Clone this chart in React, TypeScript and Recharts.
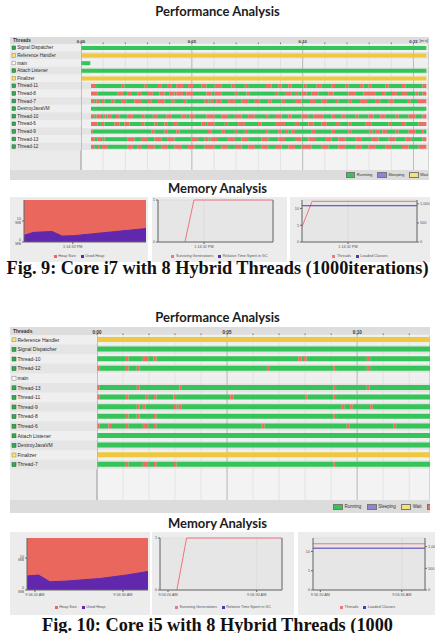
import React from "react";
import {
  BarChart,
  Bar,
  Cell,
  XAxis,
  YAxis,
  CartesianGrid,
  AreaChart,
  Area,
  LineChart,
  Line,
} from "recharts";

const FONT = "'Liberation Sans', Arial, sans-serif";
const TITLE_FONT = "Lato, 'Open Sans', sans-serif";
const CAPTION_FONT = "'Liberation Serif', 'Times New Roman', serif";

const GREEN = "#35c457";
const RED = "#ec6d64";
const YELLOW = "#efc83f";
const SLEEP = "#8c84d6";
const HEAP = "#ea675e";
const USED = "#6128ad";
const SURV = "#ee7480";
const BLUE = "#4b39b5";
const PANEL = "#ececec";

const stateNames = ["Running", "Sleeping", "Wait", "Monitor"];
const stateColors = [GREEN, SLEEP, "#f3e27a", RED];

// ---- Fig. 9 (Core i7) thread timeline, seconds ----
const threads9 = [
  "Signal Dispatcher", "Reference Handler", "main", "Attach Listener", "Finalizer",
  "Thread-11", "Thread-8", "Thread-7", "DestroyJavaVM", "Thread-10",
  "Thread-6", "Thread-9", "Thread-13", "Thread-12",
];
const kinds9 = ["run", "wait", "main", "run", "wait", "run", "run", "run", "run", "run", "run", "run", "run", "run"];
const start9 = [0, 0, 0, 0, 0, 0.45, 0.45, 0.45, 0.45, 0.45, 0.45, 0.45, 0.45, 0.45];
const end9 = [15.58, 15.58, 0.42, 15.58, 15.58, 15.58, 15.58, 15.58, 15.58, 15.58, 15.58, 15.58, 15.58, 15.58];
// monitor (red) intervals, flattened start/end pairs
const monitor9: number[][] = [
  [], [], [], [], [],
  [0.45, 0.68, 1.81, 1.96, 2.87, 3.02, 3.47, 3.62, 3.92, 4.07, 4.3, 4.6, 4.83, 5.05, 5.43, 5.66, 6.03, 6.33, 6.79, 6.94, 7.39, 7.54, 8.3, 8.6, 8.9, 9.05, 9.35, 9.5, 10.03, 10.18, 10.63, 10.86, 11.31, 11.46, 11.92, 12.07, 12.59, 12.75, 12.97, 13.12, 13.73, 13.88, 14.48, 14.63, 15.41, 15.58],
  [0.45, 0.75, 1.66, 1.89, 2.11, 2.26, 2.56, 2.71, 3.02, 3.24, 3.54, 3.77, 4.0, 4.22, 4.3, 4.6, 4.75, 5.05, 5.66, 5.88, 6.03, 6.33, 6.94, 7.09, 7.47, 7.62, 8.75, 8.9, 9.2, 9.5, 9.65, 9.8, 9.95, 10.18, 10.41, 10.71, 11.16, 11.39, 12.07, 12.37, 12.75, 13.27, 13.58, 13.73, 14.03, 14.25, 14.48, 14.71, 15.08, 15.23, 15.41, 15.58],
  [0.45, 0.6, 0.7, 0.85, 0.95, 1.06, 1.36, 1.51, 1.81, 2.04, 2.41, 2.71, 3.02, 3.17, 3.47, 3.77, 4.07, 4.22, 4.6, 4.75, 5.58, 5.75, 5.85, 6.0, 6.1, 6.33, 6.64, 6.94, 7.24, 7.54, 7.84, 8.07, 8.45, 8.6, 9.05, 9.2, 9.65, 9.95, 10.33, 10.56, 10.86, 11.09, 11.46, 11.61, 12.07, 12.22, 12.59, 12.9, 13.27, 13.5, 13.88, 14.1, 14.71, 14.86, 15.16, 15.58],
  [],
  [0.45, 0.6, 0.7, 0.9, 1.0, 1.1, 1.2, 1.36, 1.58, 1.73, 2.11, 2.34, 2.71, 2.87, 3.24, 3.47, 3.85, 4.07, 4.52, 4.75, 4.9, 5.13, 5.66, 6.03, 6.33, 6.64, 6.94, 7.24, 7.54, 7.84, 8.3, 8.45, 8.75, 9.05, 9.35, 9.5, 9.95, 10.26, 10.48, 10.93, 11.31, 11.46, 11.76, 11.92, 12.37, 12.52, 12.97, 13.2, 13.5, 13.73, 14.18, 14.33, 14.78, 15.08, 15.41, 15.58],
  [0.45, 0.75, 0.9, 1.06, 1.51, 1.73, 1.96, 2.19, 2.71, 2.87, 3.32, 3.47, 3.77, 3.92, 4.15, 4.37, 5.43, 5.6, 5.72, 6.03, 6.49, 6.64, 7.09, 7.39, 7.99, 8.15, 8.75, 9.2, 9.65, 9.88, 10.26, 10.48, 10.86, 11.09, 11.46, 11.69, 12.07, 12.22, 12.82, 13.12, 13.88, 14.03, 14.48, 14.63, 15.23, 15.58],
  [0.45, 0.53, 3.17, 3.32, 3.77, 3.92, 4.3, 4.45, 5.73, 5.88, 6.33, 6.49, 6.94, 7.09, 7.39, 7.54, 8.3, 8.45, 8.9, 9.05, 9.2, 9.35, 9.5, 9.65, 10.41, 10.56, 11.31, 11.46, 12.07, 12.22, 13.0, 13.15, 13.3, 13.45, 13.6, 13.8, 14.18, 14.33, 14.78, 15.08, 15.38, 15.46],
  [0.45, 0.62, 0.75, 0.9, 0.98, 1.06, 2.11, 2.41, 2.71, 3.02, 3.32, 3.62, 3.92, 4.22, 4.98, 5.28, 5.58, 5.75, 5.85, 6.18, 6.64, 6.94, 7.24, 7.54, 8.15, 8.45, 8.9, 9.2, 9.65, 9.95, 10.26, 10.56, 11.01, 11.31, 11.61, 11.92, 12.37, 12.67, 13.12, 13.42, 13.88, 14.18, 14.63, 14.93, 15.41, 15.58],
  [0.45, 0.6, 0.72, 0.85, 0.95, 1.21, 2.11, 2.34, 2.56, 2.71, 3.02, 3.32, 3.62, 3.92, 4.22, 4.52, 4.83, 5.13, 5.58, 6.03, 6.33, 6.64, 6.94, 7.24, 7.54, 7.84, 8.15, 8.45, 8.75, 9.05, 9.35, 9.65, 9.95, 10.41, 10.86, 11.16, 11.61, 11.92, 12.37, 12.67, 12.97, 13.27, 13.73, 14.03, 14.48, 14.78, 15.23, 15.58],
];
const ticks9 = [0, 1, 2, 3, 4, 5, 6, 7, 8, 9, 10, 11, 12, 13, 14, 15];

// ---- Fig. 10 (Core i5) thread timeline ----
const threads10 = [
  "Reference Handler", "Signal Dispatcher", "Thread-10", "Thread-12", "main",
  "Thread-13", "Thread-11", "Thread-9", "Thread-8", "Thread-6",
  "Attach Listener", "DestroyJavaVM", "Finalizer", "Thread-7",
];
const kinds10 = ["wait", "run", "run", "run", "main", "run", "run", "run", "run", "run", "run", "run", "wait", "run"];
const start10 = [0, 0, 0, 0, 0, 0, 0, 0, 0, 0, 0, 0, 0, 0];
const end10 = [12.8, 12.8, 12.8, 12.8, 0, 12.8, 12.8, 12.8, 12.8, 12.8, 12.8, 12.8, 12.8, 12.8];
const monitor10: number[][] = [
  [], [],
  [1.08, 1.21, 1.76, 1.97, 2.17, 2.29, 7.74, 7.87, 7.96, 8.06, 10.37, 10.5],
  [0, 0.09, 1.08, 1.21, 1.53, 1.63, 6.53, 6.65, 9.09, 9.19, 10.37, 10.5],
  [],
  [0, 0.09, 1.53, 1.63, 3.17, 3.27, 9.09, 9.19, 10.37, 10.47],
  [0, 0.09, 1.08, 1.21, 1.85, 1.97, 2.19, 2.29, 2.94, 3.04, 5.12, 5.24, 8.0, 8.1, 9.09, 9.19],
  [1.53, 1.63, 1.76, 1.86, 2.96, 3.06, 3.14, 3.26, 9.41, 9.51, 9.73, 9.83, 10.5, 10.6],
  [1.08, 1.21, 1.53, 1.63, 2.19, 2.29, 9.09, 9.19],
  [0, 0.09, 0.44, 0.54, 1.08, 1.21, 1.76, 1.97, 2.19, 2.29, 6.33, 6.44, 9.6, 9.7, 11.4, 11.5],
  [], [], [],
  [1.08, 1.21, 1.76, 1.97, 2.19, 2.29, 2.96, 3.06, 9.09, 9.19],
];
const ticks10 = [0, 1, 2, 3, 4, 5, 6, 7, 8, 9, 10, 11, 12];

// ---- memory charts ----
const memTicks9 = [6.4];
const memTickLabels9 = ["1:14:32 PM"];
const heapTime9 = [0, 1.3, 3.7, 5.0, 6.5, 16];
const heap9 = [20, 20, 20, 20, 20, 20];
const used9 = [3.2, 4.6, 5.0, 2.8, 3.0, 6.4];
const gcTime9 = [3.75, 5.0, 16];
const surv9 = [0, 1, 1];
const gc9 = [null, null, null];
const clsTime9 = [0, 1.4, 16];
const threadCount9 = [4.5, 12.1, 12.1];
const classes9 = [950, 950, 950];

const memTicks10 = [0.9, 10.9];
const memTickLabels10 = ["9:56:20 AM", "9:56:30 AM"];
const heapTime10 = [0, 1.3, 2.6, 4.5, 8.3, 11.3, 13.75];
const heap10 = [16.3, 16.3, 16.3, 16.3, 16.3, 16.3, 16.3];
const used10 = [4.4, 4.7, 2.6, 2.8, 3.6, 4.7, 5.8];
const gcTime10 = [1.9, 3.0, 13.75];
const surv10 = [0, 1, 1];
const gc10 = [null, null, null];
const clsTime10 = [0, 13.75];
const threadCount10 = [12, 12];
const classes10 = [965, 965];

function buildRows(names: string[], kinds: string[], starts: number[], ends: number[], monitors: number[][]) {
  const segsList = names.map((_, i) => {
    const base = kinds[i] === "wait" ? YELLOW : GREEN;
    const segs = [{ len: starts[i], color: "transparent" }];
    let cur = starts[i];
    const m = monitors[i];
    for (let k = 0; k < m.length; k += 2) {
      if (m[k] > cur) segs.push({ len: m[k] - cur, color: base });
      segs.push({ len: m[k + 1] - Math.max(m[k], cur), color: RED });
      cur = m[k + 1];
    }
    if (ends[i] > cur) segs.push({ len: ends[i] - cur, color: base });
    return segs;
  });
  const maxSegs = Math.max(...segsList.map((s) => s.length));
  const rows = names.map((name, i) => {
    const row: Record<string, any> = { name };
    for (let k = 0; k < maxSegs; k++) {
      const s = segsList[i][k];
      row[`s${k}`] = s ? s.len : 0;
      row[`c${k}`] = s ? s.color : "transparent";
    }
    return row;
  });
  return { rows, maxSegs };
}

function ThreadTick(props: any) {
  const { y, payload, axisW, rowH, kind, font, index } = props;
  const s = font * 0.8;
  const iconFill = kind === "wait" ? "#f6e08a" : kind === "main" ? "#ffffff" : "#3aa655";
  const iconStroke = kind === "wait" ? "#a88a12" : kind === "main" ? "#777" : "#1d6b31";
  return (
    <g>
      <rect x={0} y={y - rowH / 2} width={axisW} height={rowH} fill={index % 2 ? "#e5e5e5" : "#efefef"} />
      <rect x={2} y={y - s / 2} width={s} height={s} fill={iconFill} stroke={iconStroke} strokeWidth={0.5} />
      <text x={3.5 + s} y={y} dy="0.35em" fontSize={font} fontFamily={FONT} fill="#2a2a2a">
        {payload.value}
      </text>
    </g>
  );
}

function Timeline(p: any) {
  const { names, kinds, starts, ends, monitors, ticks, domainMax, left, top, width, chartH, headerH, axisW, rowH, barSize, font, legendH, legendLeft, unit } = p;
  const { rows, maxSegs } = buildRows(names, kinds, starts, ends, monitors);
  const n = names.length;
  const padBottom = chartH - headerH - n * rowH;
  const hPoints = Array.from({ length: n + 1 }, (_, i) => headerH + i * rowH);
  const hFill = hPoints.map((_, i) => (i === n ? "#f3f3f3" : i % 2 ? "#e4e4e4" : "#efefef"));
  const kindOf: Record<string, string> = {};
  names.forEach((nm: string, i: number) => (kindOf[nm] = kinds[i]));
  const segKeys = Array.from({ length: maxSegs }, (_, k) => k);
  return (
    <div style={{ position: "absolute", left, top, width, height: chartH + legendH, background: "#ebebeb", overflow: "hidden" }}>
      <div style={{ position: "absolute", left: 0, top: 0, width, height: headerH, background: "#dddddd" }} />
      <BarChart width={width} height={chartH} data={rows} layout="vertical" margin={{ top: 0, right: 0, bottom: 0, left: 0 }} barCategoryGap={0}>
        <CartesianGrid vertical={false} horizontalPoints={hPoints} horizontalFill={hFill} stroke="#f7f7f7" strokeWidth={0.5} />
        <CartesianGrid horizontal={false} stroke="#d8d8d8" strokeWidth={0.6} />
        <CartesianGrid horizontal={false} xAxisId="major" stroke="#b2b2b2" strokeWidth={0.8} />
        <XAxis
          type="number"
          orientation="top"
          domain={[0, domainMax]}
          ticks={ticks}
          allowDataOverflow
          height={headerH}
          axisLine={false}
          tickSize={1.5}
          tickMargin={0}
          stroke="#777"
          interval={0}
          tick={{ fontSize: font * 0.9, fill: "#333", fontWeight: 700, fontFamily: FONT }}
          tickFormatter={(v: number) => (v % 5 === 0 ? `0:${String(v).padStart(2, "0")}` : "")}
        />
        <XAxis xAxisId="major" type="number" hide domain={[0, domainMax]} ticks={ticks.filter((t: number) => t % 5 === 0)} allowDataOverflow />
        <YAxis
          type="category"
          dataKey="name"
          width={axisW}
          interval={0}
          tickLine={false}
          axisLine={{ stroke: "#b0b0b0" }}
          padding={{ top: 0, bottom: padBottom }}
          tick={(tp: any) => (
            <ThreadTick {...tp} axisW={axisW} rowH={rowH} font={font} kind={kindOf[tp.payload.value]} index={tp.index ?? tp.payload.index} />
          )}
        />
        {segKeys.map((k) => (
          <Bar key={k} dataKey={`s${k}`} stackId="t" barSize={barSize} isAnimationActive={false}>
            {rows.map((r, i) => (
              <Cell key={i} fill={r[`c${k}`]} />
            ))}
          </Bar>
        ))}
      </BarChart>
      <div style={{ position: "absolute", left: 3, top: 0, height: headerH, lineHeight: `${headerH}px`, fontSize: font, fontWeight: 700, fontFamily: FONT, color: "#333" }}>
        Threads
      </div>
      {unit && (
        <div style={{ position: "absolute", right: 1, top: 0, height: headerH, lineHeight: `${headerH}px`, fontSize: font * 0.85, fontFamily: FONT, color: "#444" }}>
          {unit}
        </div>
      )}
      <div style={{ position: "absolute", left: 0, top: chartH, width, height: legendH, background: "#dcdcdc" }}>
        <div style={{ position: "absolute", left: legendLeft, top: 0, height: legendH, display: "flex", alignItems: "center", gap: font * 1.1, whiteSpace: "nowrap", fontSize: font * 0.9, fontFamily: FONT, color: "#333" }}>
          {stateNames.map((s, i) => (
            <span key={s} style={{ display: "flex", alignItems: "center", gap: 1.5 }}>
              <span style={{ display: "inline-block", width: font * 1.6, height: font * 0.8, background: stateColors[i], border: "0.5px solid #777" }} />
              {s}
            </span>
          ))}
        </div>
      </div>
    </div>
  );
}

const tickStyle = { fontSize: 3.8, fill: "#555", fontFamily: FONT };

function MemLegend({ items, h }: { items: { name: string; color: string }[]; h: number }) {
  return (
    <div style={{ position: "absolute", left: 0, bottom: 0, width: "100%", display: "flex", justifyContent: "center", alignItems: "center", gap: 5, height: h, fontSize: 3.8, color: "#555", fontFamily: FONT, whiteSpace: "nowrap" }}>
      {items.map((it) => (
        <span key={it.name} style={{ display: "flex", alignItems: "center", gap: 1.5 }}>
          <span style={{ display: "inline-block", width: 3, height: 3, background: it.color }} />
          {it.name}
        </span>
      ))}
    </div>
  );
}

function timeAxis(max: number, ticks: number[], labels: string[], h: number) {
  return (
    <XAxis
      type="number"
      dataKey="t"
      domain={[0, max]}
      ticks={ticks}
      allowDataOverflow
      height={h}
      tickSize={2}
      tickMargin={1}
      stroke="#666"
      tick={tickStyle}
      tickFormatter={(v: number) => labels[ticks.indexOf(v)] ?? ""}
    />
  );
}

function HeapChart(p: any) {
  const { left, top, width, height, times, heap, used, max, yMax, ticks, labels, axisW, mTop, xH, legH } = p;
  const data = times.map((t: number, i: number) => ({ t, heap: heap[i], used: used[i] }));
  return (
    <div style={{ position: "absolute", left, top, width, height, background: PANEL }}>
      <AreaChart width={width} height={height} data={data} margin={{ top: mTop, right: 2, bottom: legH, left: 0 }}>
        {timeAxis(max, ticks, labels, xH)}
        <YAxis domain={[0, yMax]} ticks={[0, 10]} width={axisW} tickSize={2} tickMargin={1} stroke="#666" tick={tickStyle} tickFormatter={(v: number) => `${v} MB`} allowDataOverflow />
        <Area type="linear" dataKey="heap" name="Heap Size" stroke={HEAP} fill={HEAP} fillOpacity={1} isAnimationActive={false} />
        <Area type="linear" dataKey="used" name="Used Heap" stroke={USED} fill={USED} fillOpacity={1} isAnimationActive={false} />
      </AreaChart>
      <MemLegend h={legH} items={[{ name: "Heap Size", color: HEAP }, { name: "Used Heap", color: USED }]} />
    </div>
  );
}

function GcChart(p: any) {
  const { left, top, width, height, times, surv, gc, max, ticks, labels, leftW, rightW, mTop, xH, legH } = p;
  const data = times.map((t: number, i: number) => ({ t, surv: surv[i], gc: gc[i] }));
  return (
    <div style={{ position: "absolute", left, top, width, height, background: PANEL }}>
      <LineChart width={width} height={height} data={data} margin={{ top: mTop, right: 0, bottom: legH, left: 0 }}>
        <CartesianGrid fill="#e6e6e6" stroke="#d2d2d2" strokeWidth={0.5} />
        {timeAxis(max, ticks, labels, xH)}
        <YAxis yAxisId="n" domain={[0, 1]} ticks={[0, 1]} width={leftW} tickSize={2} tickMargin={1} stroke="#666" tick={tickStyle} />
        <YAxis yAxisId="pct" orientation="right" domain={[0, 100]} ticks={[0, 50, 100]} width={rightW} tickSize={2} tickMargin={1} stroke="#666" tick={tickStyle} tickFormatter={(v: number) => `${v}%`} />
        <Line yAxisId="n" type="linear" dataKey="surv" name="Surviving Generations" stroke={SURV} strokeWidth={1} dot={false} isAnimationActive={false} />
        <Line yAxisId="pct" type="linear" dataKey="gc" name="Relative Time Spent in GC" stroke={BLUE} strokeWidth={1} dot={false} isAnimationActive={false} />
      </LineChart>
      <MemLegend h={legH} items={[{ name: "Surviving Generations", color: SURV }, { name: "Relative Time Spent in GC", color: BLUE }]} />
    </div>
  );
}

function ClassChart(p: any) {
  const { left, top, width, height, times, threads, classes, max, ticks, labels, leftW, rightW, tMax, cMax, mTop, xH, legH } = p;
  const data = times.map((t: number, i: number) => ({ t, threads: threads[i], classes: classes[i] }));
  return (
    <div style={{ position: "absolute", left, top, width, height, background: PANEL }}>
      <LineChart width={width} height={height} data={data} margin={{ top: mTop, right: 0, bottom: legH, left: 0 }}>
        <CartesianGrid fill="#e6e6e6" stroke="#d2d2d2" strokeWidth={0.5} />
        {timeAxis(max, ticks, labels, xH)}
        <YAxis yAxisId="t" domain={[0, tMax]} ticks={[0, 5, 10]} width={leftW} tickSize={2} tickMargin={1} stroke="#666" tick={tickStyle} allowDataOverflow />
        <YAxis yAxisId="c" orientation="right" domain={[0, cMax]} ticks={[0, 500, 1000]} width={rightW} tickSize={2} tickMargin={1} stroke="#666" tick={tickStyle} tickFormatter={(v: number) => v.toLocaleString("en-US")} allowDataOverflow />
        <Line yAxisId="t" type="linear" dataKey="threads" name="Threads" stroke={SURV} strokeWidth={1} dot={false} isAnimationActive={false} />
        <Line yAxisId="c" type="linear" dataKey="classes" name="Loaded Classes" stroke={BLUE} strokeWidth={1} dot={false} isAnimationActive={false} />
      </LineChart>
      <MemLegend h={legH} items={[{ name: "Threads", color: SURV }, { name: "Loaded Classes", color: BLUE }]} />
    </div>
  );
}

function Title({ top, children }: any) {
  return (
    <div style={{ position: "absolute", left: 0, top, width: 435, textAlign: "center", fontFamily: TITLE_FONT, fontWeight: 700, fontSize: 13, lineHeight: "15px", color: "#1c1c1c" }}>
      {children}
    </div>
  );
}

function Caption({ top, children }: any) {
  return (
    <div style={{ position: "absolute", left: 0, top, width: 435, textAlign: "center", fontFamily: CAPTION_FONT, fontWeight: 700, fontSize: 18.3, lineHeight: "20px", color: "#111", whiteSpace: "nowrap" }}>
      {children}
    </div>
  );
}

export default function App() {
  return (
    <div style={{ position: "absolute", left: 0, top: 0, width: 435, height: 633, overflow: "hidden", background: "#ffffff" }}>
      <Title top={4}>Performance Analysis</Title>
      <Timeline
        names={threads9} kinds={kinds9} starts={start9} ends={end9} monitors={monitor9}
        ticks={ticks9} domainMax={15.7} left={10} top={37} width={419} chartH={133}
        headerH={7} axisW={71} rowH={7.6} barSize={4} font={4.6} legendH={10} legendLeft={336} unit="[m:s]"
      />
      <Title top={181}>Memory Analysis</Title>
      <HeapChart left={10} top={197} width={138} height={65} times={heapTime9} heap={heap9} used={used9} max={16} yMax={20} ticks={memTicks9} labels={memTickLabels9} axisW={14} mTop={3} xH={8} legH={12} />
      <GcChart left={152} top={197} width={135} height={65} times={gcTime9} surv={surv9} gc={gc9} max={16} ticks={memTicks9} labels={memTickLabels9} leftW={6} rightW={14} mTop={3} xH={8} legH={12} />
      <ClassChart left={290} top={197} width={140} height={65} times={clsTime9} threads={threadCount9} classes={classes9} max={16} ticks={memTicks9} labels={memTickLabels9} leftW={12} rightW={13} tMax={12.5} cMax={1100} mTop={3} xH={8} legH={12} />
      <Caption top={258}>Fig. 9: Core i7 with 8 Hybrid Threads (1000iterations)</Caption>

      <Title top={310}>Performance Analysis</Title>
      <Timeline
        names={threads10} kinds={kinds10} starts={start10} ends={end10} monitors={monitor10}
        ticks={ticks10} domainMax={12.8} left={10} top={327} width={420} chartH={173}
        headerH={8} axisW={87} rowH={9.6} barSize={5} font={5} legendH={13} legendLeft={323}
      />
      <Title top={516}>Memory Analysis</Title>
      <HeapChart left={10} top={532} width={140} height={83} times={heapTime10} heap={heap10} used={used10} max={13.75} yMax={16.3} ticks={memTicks10} labels={memTickLabels10} axisW={17} mTop={6} xH={9} legH={16} />
      <GcChart left={152} top={532} width={142} height={83} times={gcTime10} surv={surv10} gc={gc10} max={13.75} ticks={memTicks10} labels={memTickLabels10} leftW={8} rightW={12} mTop={6} xH={9} legH={16} />
      <ClassChart left={298} top={532} width={139} height={83} times={clsTime10} threads={threadCount10} classes={classes10} max={13.75} ticks={memTicks10} labels={memTickLabels10} leftW={15} rightW={12} tMax={13.5} cMax={1200} mTop={6} xH={9} legH={16} />
      <Caption top={615}>Fig. 10: Core i5 with 8 Hybrid Threads (1000</Caption>
    </div>
  );
}
